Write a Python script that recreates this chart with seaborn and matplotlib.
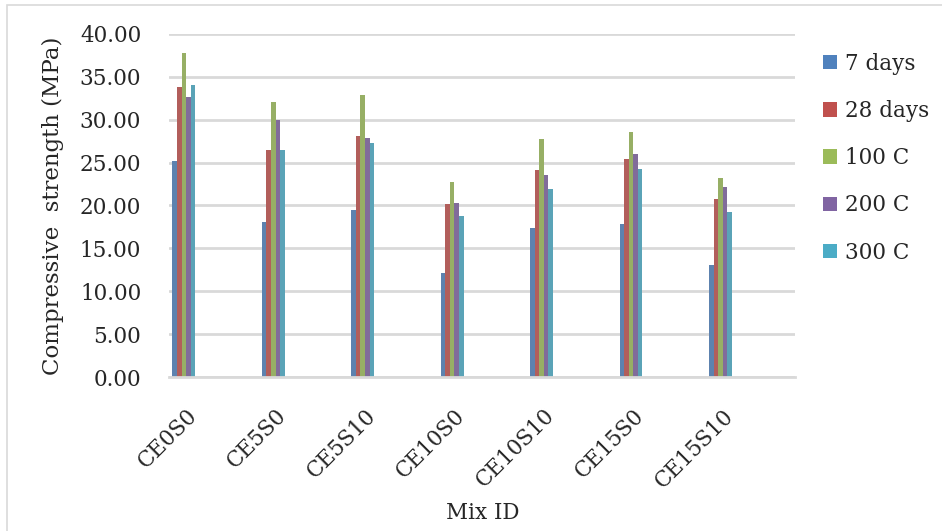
import matplotlib
matplotlib.use("Agg")
import matplotlib.pyplot as plt
from matplotlib.patches import Patch, Rectangle
from matplotlib.transforms import ScaledTranslation
import seaborn as sns
import pandas as pd

mixes = ["CE0S0", "CE5S0", "CE5S10", "CE10S0", "CE10S10", "CE15S0", "CE15S10"]
series = ["7 days", "28 days", "100 C", "200 C", "300 C"]
days7 = [25.2, 18.1, 19.5, 12.1, 17.4, 17.9, 13.1]
days28 = [33.8, 26.5, 28.1, 20.2, 24.1, 25.4, 20.8]
temp100 = [37.8, 32.1, 32.9, 22.7, 27.7, 28.6, 23.2]
temp200 = [32.6, 30.0, 27.9, 20.3, 23.6, 26.0, 22.2]
temp300 = [34.1, 26.5, 27.3, 18.8, 21.9, 24.2, 19.2]
colors = ["#4F81BD", "#C0504D", "#9BBB59", "#8064A2", "#4BACC6"]
yticks = [0, 5, 10, 15, 20, 25, 30, 35, 40]

values = [days7, days28, temp100, temp200, temp300]
rows = []
for name, vals in zip(series, values):
    for mix, v in zip(mixes, vals):
        rows.append({"Mix ID": mix, "Series": name, "Strength": v})
df = pd.DataFrame(rows)

# The workbook's chart reserves 18 series slots per category; only the first
# five carry data, so the bars sit at the left of each category band.
empty_slots = [" " * (k + 1) for k in range(13)]
hue_order = series + empty_slots
palette = dict(zip(series, colors))
palette.update({s: "white" for s in empty_slots})

sns.set_theme(style="white")
plt.rcParams["font.family"] = ["DejaVu Serif"]
FS = 15.5

fig = plt.figure(figsize=(9.42, 5.31), dpi=100)
W, H = 942, 531
ax = fig.add_axes([169 / W, 1 - 377 / H, (795 - 169) / W, (377 - 34) / H])

sns.barplot(data=df, x="Mix ID", y="Strength", hue="Series", hue_order=hue_order,
            order=mixes, palette=palette, width=0.924, linewidth=0,
            legend=False, ax=ax)

ax.set_ylim(0, 40)
ax.set_xlim(-0.5, len(mixes) - 0.5)
ax.set_yticks(yticks)
ax.set_yticklabels([f"{t:.2f}" for t in yticks], fontsize=FS)
ax.yaxis.grid(True, color="#D9D9D9", linewidth=2)
ax.set_axisbelow(True)
for side in ["left", "right", "top"]:
    ax.spines[side].set_visible(False)
ax.spines["bottom"].set_color("#D9D9D9")
ax.spines["bottom"].set_linewidth(2)
ax.tick_params(axis="both", length=0)
ax.tick_params(axis="y", pad=20)
ax.tick_params(axis="x", pad=20)
shift = ScaledTranslation(-28 / 100, 0, fig.dpi_scale_trans)
for lbl in ax.get_xticklabels():
    lbl.set_rotation(45)
    lbl.set_ha("right")
    lbl.set_va("top")
    lbl.set_rotation_mode("anchor")
    lbl.set_fontsize(FS)
    lbl.set_transform(lbl.get_transform() + shift)

ax.set_ylabel("Compressive  strength (MPa)", fontsize=16.5, labelpad=11)
ax.set_xlabel("")
fig.text(483 / W, 1 - 513 / H, "Mix ID", ha="center", va="center", fontsize=FS)

handles = [Patch(facecolor=c, edgecolor="none", label=s) for s, c in zip(series, colors)]
fig.legend(handles=handles, loc="upper left", bbox_to_anchor=(812 / W, 1 - 42 / H),
           frameon=False, fontsize=FS, handlelength=0.65, handleheight=0.65,
           handletextpad=0.4, labelspacing=1.17, borderpad=0)

fig.patches.append(Rectangle((7 / W, -0.05), 1.1, 1 - 5 / H + 0.05,
                             transform=fig.transFigure, fill=False,
                             edgecolor="#D9D9D9", linewidth=1.2))

fig.savefig("out.png", dpi=100)
